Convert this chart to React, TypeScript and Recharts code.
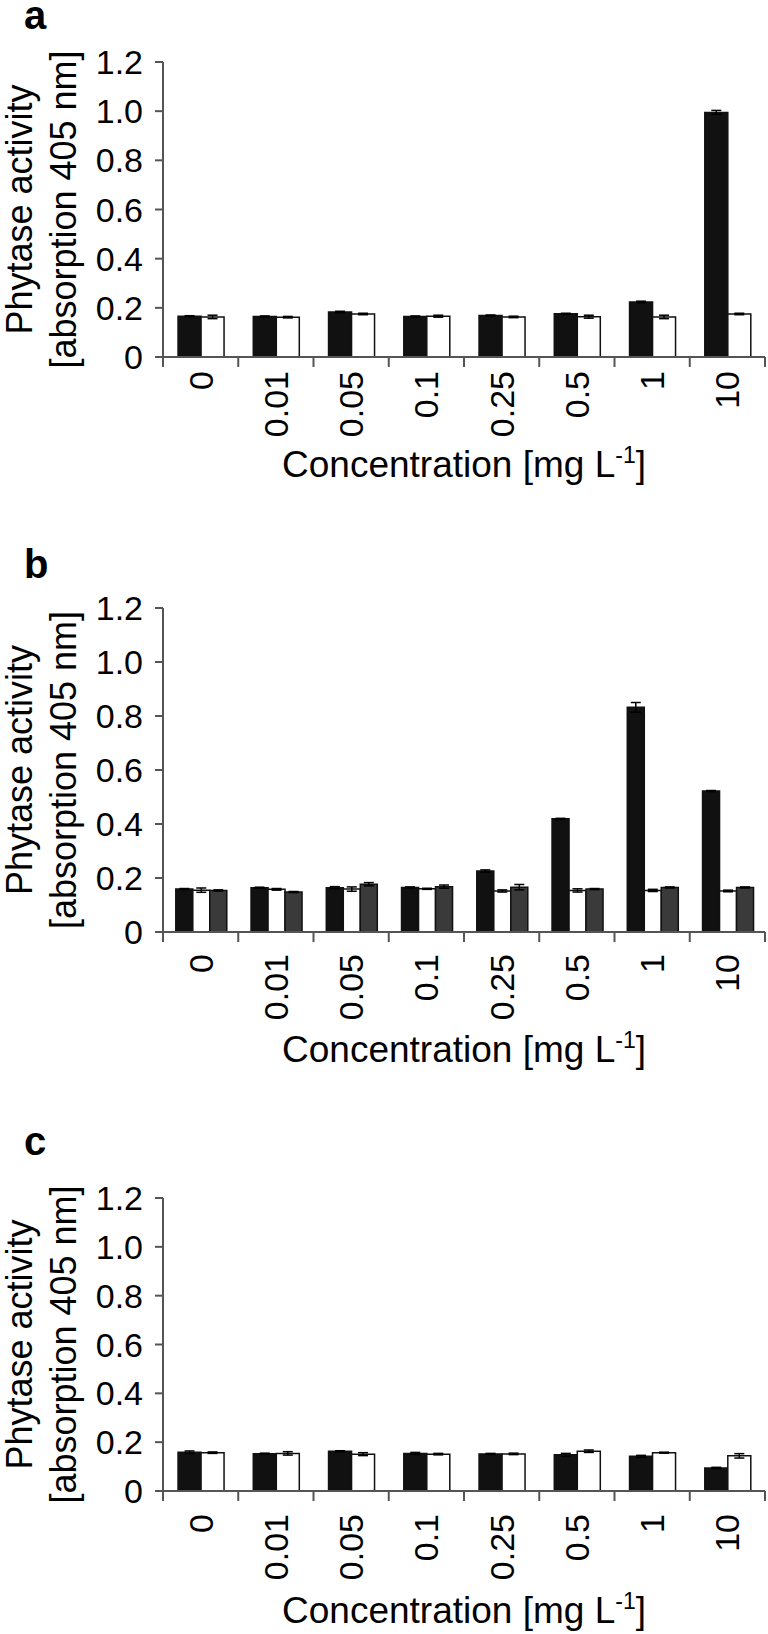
import React from 'react';
import { BarChart, Bar, XAxis, YAxis, ErrorBar, Label } from 'recharts';

const concentrations = ['0', '0.01', '0.05', '0.1', '0.25', '0.5', '1', '10'];
const yTicks = [0, 0.2, 0.4, 0.6, 0.8, 1.0, 1.2];

// panel a
const aBlack = [0.166, 0.165, 0.183, 0.165, 0.169, 0.176, 0.224, 0.995];
const aBlackErr = [0.002, 0.002, 0.003, 0.002, 0.002, 0.002, 0.003, 0.008];
const aWhite = [0.163, 0.162, 0.175, 0.166, 0.163, 0.164, 0.163, 0.175];
const aWhiteErr = [0.007, 0.003, 0.003, 0.004, 0.003, 0.006, 0.007, 0.003];

// panel b
const bBlack = [0.159, 0.164, 0.164, 0.165, 0.226, 0.419, 0.832, 0.522];
const bBlackErr = [0.002, 0.002, 0.004, 0.002, 0.004, 0.002, 0.018, 0.002];
const bWhite = [0.155, 0.158, 0.159, 0.16, 0.152, 0.154, 0.154, 0.152];
const bWhiteErr = [0.008, 0.003, 0.008, 0.002, 0.004, 0.006, 0.004, 0.003];
const bGray = [0.154, 0.148, 0.177, 0.168, 0.166, 0.159, 0.165, 0.165];
const bGrayErr = [0.002, 0.002, 0.006, 0.006, 0.01, 0.002, 0.002, 0.002];

// panel c
const cBlack = [0.159, 0.153, 0.163, 0.154, 0.152, 0.148, 0.142, 0.094];
const cBlackErr = [0.005, 0.002, 0.002, 0.004, 0.002, 0.006, 0.004, 0.003];
const cWhite = [0.157, 0.154, 0.151, 0.151, 0.152, 0.163, 0.157, 0.144];
const cWhiteErr = [0.003, 0.007, 0.006, 0.003, 0.003, 0.005, 0.002, 0.009];

const FONT = '"Liberation Sans", Arial, Helvetica, sans-serif';
const AXIS = '#555';
const W = 768;
const AXIS_X = 163;
const RIGHT = 3;

interface Series {
  key: string;
  values: number[];
  errors: number[];
  fill: string;
}

interface PanelProps {
  letter: string;
  top: number;
  height: number;
  plotTop: number;
  plotBottom: number;
  letterY: number;
  gap: string;
  labelGap: number;
  titleGap: number;
  series: Series[];
}

// rotated category label plus tick marks on the category boundaries
const CategoryTick = (props: any) => {
  const { x, y, payload, index, gap } = props;
  const half = payload && payload.offset ? payload.offset : (W - AXIS_X - RIGHT) / concentrations.length / 2;
  const last = index === concentrations.length - 1;
  return (
    <g>
      <line x1={x - half} x2={x - half} y1={y} y2={y + 10} stroke={AXIS} strokeWidth={2} />
      {last && <line x1={x + half} x2={x + half} y1={y} y2={y + 10} stroke={AXIS} strokeWidth={2} />}
      <text
        transform={`translate(${x},${y + gap}) rotate(-90)`}
        textAnchor="end"
        dy="0.35em"
        fontSize={34}
        fontFamily={FONT}
        fill="#000"
      >
        {payload.value}
      </text>
    </g>
  );
};

const Panel: React.FC<PanelProps> = (p) => {
  const data = concentrations.map((name, i) => {
    const row: any = { name };
    p.series.forEach((s) => {
      row[s.key] = s.values[i];
      row[s.key + 'Err'] = s.errors[i];
    });
    return row;
  });

  const cy = p.plotTop - p.top + (p.plotBottom - p.plotTop) / 2;
  const base = p.plotBottom - p.top;
  const cx = AXIS_X + (W - AXIS_X - RIGHT) / 2;

  // panel letter, two-line y title and x title
  const decorations = () => (
    <g fontFamily={FONT} fill="#000">
      <text x={24} y={p.letterY - p.top} fontSize={40} fontWeight="bold">{p.letter}</text>
      <text transform={`translate(32,${cy}) rotate(-90)`} textAnchor="middle" fontSize={36}>
        Phytase activity
      </text>
      <text transform={`translate(76,${cy}) rotate(-90)`} textAnchor="middle" fontSize={36}>
        [absorption 405 nm]
      </text>
      <text x={cx} y={base + p.titleGap} textAnchor="middle" fontSize={37}>
        Concentration [mg L<tspan fontSize={23} dy={-14}>-1</tspan><tspan dy={14}>]</tspan>
      </text>
    </g>
  );

  return (
    <div style={{ position: 'absolute', left: 0, top: p.top, width: W, height: p.height }}>
      <BarChart
        width={W}
        height={p.height}
        data={data}
        margin={{ top: p.plotTop - p.top, right: RIGHT, bottom: p.top + p.height - p.plotBottom - 1, left: 0 }}
        barGap={0}
        barCategoryGap={p.gap}
      >
        <XAxis
          dataKey="name"
          height={1}
          tickSize={0}
          tickMargin={0}
          tickLine={false}
          interval={0}
          minTickGap={0}
          axisLine={{ stroke: AXIS, strokeWidth: 2 }}
          tick={<CategoryTick gap={p.labelGap} />}
        />
        <YAxis
          domain={[0, 1.2]}
          ticks={yTicks}
          interval={0}
          width={AXIS_X}
          tickSize={8}
          tickMargin={12}
          axisLine={{ stroke: AXIS, strokeWidth: 2 }}
          tickLine={{ stroke: AXIS, strokeWidth: 2 }}
          tick={{ fontSize: 34, fill: '#000', fontFamily: FONT }}
          tickFormatter={(v: number) => (v === 0 ? '0' : v.toFixed(1))}
        >
          <Label content={decorations} />
        </YAxis>
        {p.series.map((s) => (
          <Bar
            key={s.key}
            dataKey={s.key}
            fill={s.fill}
            stroke="#111"
            strokeWidth={1.5}
            isAnimationActive={false}
          >
            <ErrorBar dataKey={s.key + 'Err'} width={5} stroke="#000" strokeWidth={1.5} direction="y" isAnimationActive={false} />
          </Bar>
        ))}
      </BarChart>
    </div>
  );
};

const App: React.FC = () => {
  return (
    <div style={{ position: 'absolute', left: 0, top: 0, width: W, height: 1634, background: '#fff', overflow: 'hidden' }}>
      <Panel
        letter="a"
        top={0}
        height={500}
        plotTop={62}
        plotBottom={357}
        letterY={29}
        gap="20%"
        labelGap={14}
        titleGap={120}
        series={[
          { key: 'black', values: aBlack, errors: aBlackErr, fill: '#111' },
          { key: 'white', values: aWhite, errors: aWhiteErr, fill: '#fff' },
        ]}
      />
      <Panel
        letter="b"
        top={540}
        height={540}
        plotTop={608}
        plotBottom={932}
        letterY={578}
        gap="17%"
        labelGap={22}
        titleGap={130}
        series={[
          { key: 'black', values: bBlack, errors: bBlackErr, fill: '#111' },
          { key: 'white', values: bWhite, errors: bWhiteErr, fill: '#fff' },
          { key: 'gray', values: bGray, errors: bGrayErr, fill: '#3a3a3a' },
        ]}
      />
      <Panel
        letter="c"
        top={1120}
        height={514}
        plotTop={1198}
        plotBottom={1491}
        letterY={1155}
        gap="20%"
        labelGap={23}
        titleGap={132}
        series={[
          { key: 'black', values: cBlack, errors: cBlackErr, fill: '#111' },
          { key: 'white', values: cWhite, errors: cWhiteErr, fill: '#fff' },
        ]}
      />
    </div>
  );
};

export default App;
